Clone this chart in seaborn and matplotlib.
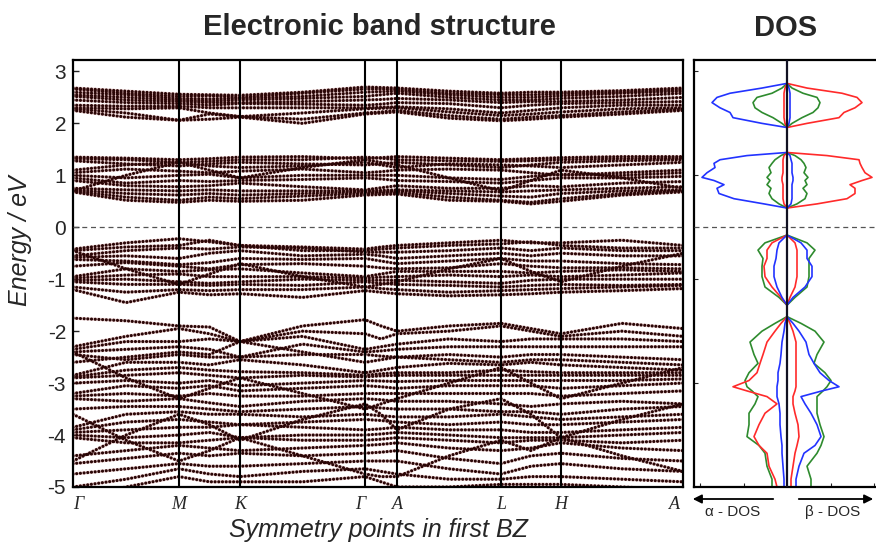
import numpy as np
import pandas as pd
import matplotlib
matplotlib.use("Agg")
import matplotlib.pyplot as plt
import seaborn as sns

# ---------------- k-path ----------------
sym_labels = ["Γ", "M", "K", "Γ", "A", "L", "H", "A"]
sym_pos = [0, 106, 167, 292, 324, 428, 488, 610]
# sample positions along the path: each symmetry point plus the midpoint of each segment
k_nodes = [0, 53, 106, 136.5, 167, 229.5, 292, 308, 324, 376, 428, 458, 488, 549, 610]

# ---------------- bands (eV) ----------------
cond_upper = [
    [2.68, 2.62, 2.56, 2.55, 2.54, 2.60, 2.70, 2.69, 2.68, 2.62, 2.58, 2.60, 2.60, 2.63, 2.68],
    [2.66, 2.58, 2.52, 2.53, 2.50, 2.58, 2.66, 2.66, 2.65, 2.58, 2.55, 2.55, 2.57, 2.60, 2.65],
    [2.60, 2.55, 2.48, 2.47, 2.48, 2.52, 2.60, 2.61, 2.62, 2.55, 2.50, 2.50, 2.53, 2.58, 2.62],
    [2.55, 2.50, 2.45, 2.43, 2.45, 2.48, 2.52, 2.55, 2.58, 2.50, 2.45, 2.45, 2.48, 2.52, 2.58],
    [2.52, 2.45, 2.42, 2.40, 2.40, 2.42, 2.45, 2.46, 2.48, 2.45, 2.40, 2.42, 2.42, 2.45, 2.50],
    [2.45, 2.40, 2.38, 2.35, 2.38, 2.37, 2.35, 2.37, 2.40, 2.38, 2.30, 2.35, 2.38, 2.40, 2.42],
    [2.35, 2.33, 2.33, 2.30, 2.30, 2.30, 2.30, 2.31, 2.32, 2.28, 2.20, 2.25, 2.30, 2.35, 2.35],
    [2.30, 2.28, 2.30, 2.20, 2.13, 2.20, 2.28, 2.29, 2.30, 2.22, 2.15, 2.18, 2.22, 2.28, 2.30],
    [2.28, 2.20, 2.06, 2.18, 2.13, 2.08, 2.20, 2.22, 2.25, 2.15, 2.08, 2.12, 2.15, 2.22, 2.27],
    [2.25, 2.12, 2.06, 2.08, 2.12, 2.00, 2.18, 2.20, 2.22, 2.10, 2.05, 2.08, 2.12, 2.18, 2.25],
]
cond_lower = [
    [1.35, 1.33, 1.30, 1.32, 1.35, 1.36, 1.32, 1.34, 1.36, 1.33, 1.30, 1.32, 1.34, 1.36, 1.36],
    [1.32, 1.30, 1.25, 1.27, 1.30, 1.30, 1.35, 1.33, 1.30, 1.28, 1.27, 1.28, 1.30, 1.32, 1.33],
    [1.28, 1.22, 1.18, 1.22, 1.25, 1.22, 1.20, 1.22, 1.25, 1.20, 1.15, 1.20, 1.25, 1.28, 1.30],
    [1.10, 1.20, 1.25, 1.18, 1.15, 1.18, 1.25, 1.20, 1.15, 1.22, 1.20, 1.18, 1.15, 1.20, 1.25],
    [1.05, 1.12, 1.08, 1.05, 1.08, 1.12, 1.05, 1.07, 1.10, 1.12, 1.10, 1.05, 1.00, 1.05, 1.10],
    [0.70, 1.00, 1.25, 1.10, 0.95, 1.15, 1.30, 1.25, 1.20, 0.95, 0.70, 0.90, 1.10, 0.95, 0.75],
    [1.00, 0.95, 1.00, 1.02, 0.95, 1.00, 1.00, 1.00, 1.00, 0.95, 0.92, 0.98, 1.02, 1.00, 1.05],
    [0.95, 0.85, 0.90, 0.88, 0.90, 0.92, 0.95, 0.93, 0.90, 0.88, 0.85, 0.90, 0.95, 0.95, 0.98],
    [0.90, 0.80, 0.78, 0.80, 0.85, 0.78, 0.72, 0.76, 0.80, 0.75, 0.75, 0.80, 0.78, 0.85, 0.88],
    [0.75, 0.72, 0.70, 0.72, 0.70, 0.70, 0.70, 0.71, 0.72, 0.70, 0.68, 0.70, 0.72, 0.75, 0.78],
    [0.72, 0.65, 0.62, 0.65, 0.62, 0.65, 0.68, 0.68, 0.70, 0.65, 0.60, 0.58, 0.65, 0.70, 0.72],
    [0.70, 0.58, 0.52, 0.58, 0.55, 0.60, 0.65, 0.66, 0.67, 0.58, 0.52, 0.48, 0.55, 0.65, 0.70],
    [0.68, 0.52, 0.48, 0.52, 0.50, 0.52, 0.62, 0.63, 0.64, 0.52, 0.50, 0.45, 0.50, 0.62, 0.68],
]
val_upper = [
    [-0.42, -0.30, -0.22, -0.28, -0.35, -0.38, -0.42, -0.38, -0.35, -0.30, -0.25, -0.30, -0.30, -0.25, -0.35],
    [-0.45, -0.38, -0.35, -0.25, -0.35, -0.45, -0.45, -0.42, -0.40, -0.35, -0.32, -0.28, -0.35, -0.40, -0.40],
    [-0.55, -0.45, -0.40, -0.42, -0.38, -0.40, -0.48, -0.48, -0.48, -0.45, -0.40, -0.45, -0.40, -0.45, -0.45],
    [-0.45, -0.80, -1.10, -0.90, -0.70, -0.95, -1.15, -1.10, -1.05, -0.80, -0.60, -0.85, -1.05, -0.75, -0.50],
    [-0.58, -0.55, -0.60, -0.50, -0.45, -0.55, -0.52, -0.55, -0.60, -0.55, -0.50, -0.55, -0.50, -0.55, -0.55],
    [-0.62, -0.65, -0.72, -0.68, -0.60, -0.62, -0.60, -0.65, -0.70, -0.65, -0.60, -0.65, -0.65, -0.70, -0.72],
    [-0.75, -0.68, -0.75, -0.80, -0.72, -0.70, -0.75, -0.78, -0.80, -0.78, -0.70, -0.75, -0.78, -0.78, -0.80],
    [-0.95, -0.80, -0.85, -0.82, -0.80, -0.88, -0.95, -0.90, -0.85, -0.85, -0.85, -0.88, -0.85, -0.82, -0.85],
    [-0.98, -0.92, -0.90, -0.95, -0.95, -0.95, -0.98, -0.96, -0.95, -0.92, -0.95, -0.92, -0.95, -0.92, -0.88],
    [-1.02, -1.00, -1.05, -1.08, -1.05, -1.00, -1.02, -1.02, -1.02, -1.05, -1.08, -1.02, -1.00, -1.00, -1.00],
    [-1.05, -1.10, -1.10, -1.12, -1.10, -1.12, -1.05, -1.08, -1.10, -1.12, -1.15, -1.12, -1.10, -1.12, -1.10],
    [-1.15, -1.25, -1.20, -1.22, -1.20, -1.20, -1.15, -1.18, -1.20, -1.25, -1.22, -1.20, -1.18, -1.15, -1.12],
    [-1.20, -1.45, -1.25, -1.30, -1.28, -1.35, -1.22, -1.25, -1.28, -1.32, -1.30, -1.28, -1.25, -1.22, -1.18],
]
val_lower = [
    [-1.75, -1.80, -1.90, -1.92, -2.20, -1.90, -1.78, -1.90, -2.00, -1.90, -1.85, -1.95, -2.05, -1.85, -1.95],
    [-2.30, -2.10, -1.95, -2.05, -2.20, -2.00, -2.05, -2.15, -2.05, -2.00, -1.90, -2.00, -2.10, -2.00, -2.10],
    [-2.35, -2.20, -2.20, -2.15, -2.20, -2.10, -2.35, -2.30, -2.25, -2.15, -2.20, -2.15, -2.15, -2.15, -2.20],
    [-2.40, -2.35, -2.30, -2.35, -2.50, -2.25, -2.40, -2.38, -2.35, -2.30, -2.30, -2.30, -2.30, -2.30, -2.30],
    [-2.45, -2.55, -2.45, -2.50, -2.50, -2.45, -2.45, -2.48, -2.50, -2.45, -2.50, -2.45, -2.45, -2.50, -2.55],
    [-2.60, -2.50, -2.40, -2.45, -2.20, -2.40, -2.60, -2.55, -2.50, -2.55, -2.60, -2.55, -2.55, -2.60, -2.65],
    [-2.40, -2.90, -3.30, -3.10, -2.90, -3.20, -3.50, -3.40, -3.30, -3.00, -2.70, -3.00, -3.30, -3.00, -2.70],
    [-2.85, -2.60, -2.60, -2.65, -2.55, -2.65, -2.80, -2.75, -2.70, -2.62, -2.65, -2.60, -2.65, -2.70, -2.75],
    [-2.88, -2.75, -2.70, -2.75, -2.78, -2.80, -2.85, -2.82, -2.80, -2.80, -2.75, -2.78, -2.80, -2.80, -2.80],
    [-2.90, -2.85, -2.80, -2.85, -2.90, -2.85, -2.88, -2.86, -2.85, -2.85, -2.85, -2.85, -2.85, -2.85, -2.85],
    [-3.00, -2.95, -3.00, -2.95, -3.05, -3.00, -2.95, -2.96, -2.97, -2.95, -2.95, -2.95, -2.95, -2.95, -2.92],
    [-3.20, -3.05, -3.10, -3.05, -3.15, -3.10, -3.05, -3.07, -3.10, -3.05, -3.05, -3.05, -3.10, -3.05, -3.00],
    [-3.25, -3.20, -3.25, -3.20, -3.25, -3.25, -3.20, -3.20, -3.20, -3.20, -3.20, -3.20, -3.25, -3.20, -3.15],
    [-3.30, -3.35, -3.30, -3.38, -3.45, -3.35, -3.30, -3.32, -3.35, -3.35, -3.40, -3.45, -3.40, -3.35, -3.40],
    [-3.50, -3.45, -3.45, -3.50, -3.55, -3.50, -3.45, -3.48, -3.50, -3.50, -3.55, -3.55, -3.60, -3.50, -3.45],
    [-4.50, -4.00, -3.60, -3.80, -4.10, -3.70, -3.40, -3.60, -3.90, -3.50, -3.30, -3.60, -4.05, -3.70, -3.40],
    [-3.85, -3.60, -3.55, -3.60, -3.60, -3.65, -3.60, -3.63, -3.65, -3.65, -3.60, -3.65, -3.70, -3.65, -3.60],
    [-3.90, -3.75, -3.70, -3.75, -3.80, -3.75, -3.70, -3.72, -3.75, -3.80, -3.75, -3.80, -3.80, -3.75, -3.70],
    [-3.95, -3.90, -3.85, -3.85, -3.80, -3.85, -3.90, -3.88, -3.85, -3.90, -3.90, -3.95, -3.95, -3.90, -3.85],
    [-3.60, -4.10, -4.50, -4.30, -4.05, -4.40, -4.75, -4.80, -4.80, -4.40, -4.10, -4.30, -4.05, -4.40, -4.70],
    [-4.00, -4.05, -4.00, -3.95, -4.05, -4.00, -4.00, -3.98, -3.95, -4.00, -4.05, -4.05, -4.05, -4.00, -3.95],
    [-4.05, -4.15, -4.15, -4.10, -4.05, -4.10, -4.10, -4.08, -4.05, -4.10, -4.15, -4.10, -4.10, -4.15, -4.10],
    [-4.40, -4.30, -4.20, -4.25, -4.30, -4.25, -4.20, -4.18, -4.15, -4.25, -4.30, -4.25, -4.15, -4.25, -4.30],
    [-4.55, -4.45, -4.35, -4.40, -4.35, -4.40, -4.35, -4.33, -4.30, -4.45, -4.55, -4.40, -4.35, -4.45, -4.50],
    [-4.75, -4.65, -4.55, -4.60, -4.60, -4.55, -4.50, -4.50, -4.50, -4.65, -4.75, -4.60, -4.55, -4.65, -4.70],
    [-5.00, -4.85, -4.65, -4.75, -4.80, -4.70, -4.65, -4.70, -4.75, -4.85, -4.85, -4.80, -4.80, -4.85, -4.90],
    [-5.20, -5.00, -4.80, -4.90, -4.90, -4.90, -4.80, -4.90, -5.00, -5.00, -4.95, -4.95, -4.95, -5.00, -5.05],
]

# ---------------- DOS (arb. units) ----------------
dos_energy = [-5.00, -4.85, -4.60, -4.35, -4.20, -4.03, -3.80, -3.58, -3.40, -3.26,
              -3.15, -3.07, -2.95, -2.80, -2.62, -2.45, -2.21, -2.00, -1.85, -1.72,
              -1.50, -1.35, -1.15, -0.95, -0.75, -0.60, -0.44, -0.30, -0.15,
              0.37, 0.45, 0.55, 0.65, 0.75, 0.82, 0.90, 0.96, 1.05, 1.15, 1.23, 1.30, 1.38, 1.44,
              1.92, 2.00, 2.11, 2.21, 2.30, 2.40, 2.50, 2.58, 2.68, 2.77]
green_alpha = [15, 15, 20, 22, 28, 40, 38, 38, 32, 29, 35, 40, 42, 38, 29, 33, 37, 25, 12, 0,
               0, 8, 22, 25, 25, 24, 29, 22, 0,
               0, 8, 15, 18, 16, 20, 17, 20, 16, 18, 15, 12, 6, 0,
               0, 5, 14, 25, 32, 34, 30, 15, 5, 0]
green_beta = [24, 24, 20, 30, 34, 37, 33, 30, 30, 30, 36, 40, 44, 38, 27, 30, 37, 28, 14, 0,
              0, 8, 20, 22, 22, 22, 28, 20, 0,
              0, 10, 18, 20, 16, 20, 18, 21, 17, 19, 17, 14, 8, 0,
              0, 5, 15, 26, 31, 33, 30, 16, 5, 0]
red_alpha = [10, 12, 18, 20, 28, 33, 28, 22, 10, 20, 40, 54, 38, 30, 27, 24, 20, 12, 6, 0,
             0, 6, 15, 22, 23, 20, 20, 15, 0,
             0, 3, 4, 4, 4, 4, 5, 5, 4, 4, 4, 4, 3, 0,
             0, 2, 3, 3, 3, 3, 3, 3, 2, 0]
red_beta = [4, 4, 6, 8, 10, 12, 11, 8, 6, 6, 8, 9, 9, 9, 9, 9, 9, 6, 3, 0,
            0, 3, 8, 10, 10, 10, 10, 8, 0,
            0, 30, 60, 68, 68, 63, 75, 85, 78, 75, 73, 72, 40, 0,
            0, 20, 52, 57, 68, 75, 70, 55, 20, 0]
blue_alpha = [3, 3, 4, 5, 5, 6, 7, 7, 8, 10, 10, 10, 9, 9, 7, 6, 5, 3, 2, 0,
              0, 5, 10, 13, 13, 11, 10, 8, 0,
              0, 23, 53, 68, 70, 63, 73, 85, 80, 72, 73, 67, 40, 0,
              0, 25, 54, 57, 67, 75, 70, 57, 25, 0]
blue_beta = [9, 9, 12, 17, 28, 34, 30, 24, 18, 14, 35, 52, 42, 33, 27, 22, 19, 12, 6, 0,
             0, 6, 18, 25, 25, 20, 20, 14, 0,
             0, 4, 5, 5, 5, 5, 6, 6, 5, 5, 5, 4, 3, 0,
             0, 2, 3, 3, 3, 3, 3, 3, 2, 0]

# ---------------- tidy tables ----------------
band_rows = []
bid = 0
for group in (cond_upper, cond_lower, val_upper, val_lower):
    for band in group:
        for k, e in zip(k_nodes, band):
            band_rows.append((bid, k, e))
        bid += 1
bands_df = pd.DataFrame(band_rows, columns=["band", "k", "E"])

dos_curves = {
    "green α": (green_alpha, -1), "green β": (green_beta, 1),
    "red α": (red_alpha, -1), "red β": (red_beta, 1),
    "blue α": (blue_alpha, -1), "blue β": (blue_beta, 1),
}
dos_rows = []
for name, (vals, sign) in dos_curves.items():
    for e, v in zip(dos_energy, vals):
        dos_rows.append((name, e, sign * v))
dos_df = pd.DataFrame(dos_rows, columns=["curve", "E", "dos"])
dos_palette = {"green α": "#2e8b2e", "green β": "#2e8b2e",
               "red α": "#ff2a2a", "red β": "#ff2a2a",
               "blue α": "#2233ff", "blue β": "#2233ff"}

# ---------------- figure ----------------
sns.set_style("white")
plt.rcParams["font.family"] = ["Liberation Sans", "DejaVu Sans"]

W, H = 876, 545
fig = plt.figure(figsize=(W / 100, H / 100), dpi=100)
ax = fig.add_axes([73 / W, 1 - 487 / H, 610 / W, 427 / H])
ax_d = fig.add_axes([694 / W, 1 - 487 / H, 1 - 694 / W, 427 / H])

# band structure: rows of round dark dots with a faint red halo
sns.lineplot(data=bands_df, x="k", y="E", units="band", estimator=None, sort=False,
             color="#d08080", lw=2.4, alpha=0.3, ax=ax, legend=False)
sns.lineplot(data=bands_df, x="k", y="E", units="band", estimator=None, sort=False,
             color="#2a0606", lw=2.3, linestyle=(0, (0.01, 1.15)),
             dash_capstyle="round", ax=ax, legend=False)

for xp in sym_pos[1:-1]:
    ax.axvline(xp, color="black", lw=1.5, zorder=5)
ax.axhline(0, color="#555555", lw=0.9, ls=(0, (4, 3)), zorder=4)

ax.set_xlim(sym_pos[0], sym_pos[-1])
ax.set_ylim(-5, 3.22)
ax.set_yticks([3, 2, 1, 0, -1, -2, -3, -4, -5])
ax.set_yticklabels(["3", "2", "1", "0", "-1", "-2", "-3", "-4", "-5"])
ax.tick_params(axis="y", direction="in", length=4, width=1, labelsize=15, pad=5, left=True)
ax.set_xticks([])
ax.set_xlabel("")
ax.set_ylabel("Energy / eV", fontsize=18, style="italic")
ax.yaxis.set_label_coords(-0.067, 0.576)
for s in ax.spines.values():
    s.set_color("black")
    s.set_linewidth(1.6)

# high-symmetry point labels
for i, (lab, xp) in enumerate(zip(sym_labels, sym_pos)):
    ha = "center"
    dx = 0
    if i == 0:
        ha = "left"
    elif i == len(sym_labels) - 1:
        ha = "right"
        dx = -3
    elif lab == "Γ":
        dx = -5
    ax.annotate(lab, xy=(xp, 0), xycoords=("data", "axes fraction"),
                xytext=(dx, -9), textcoords="offset pixels", ha=ha, va="top",
                fontsize=13, style="italic", family=["Liberation Serif", "DejaVu Serif"])

fig.text(378 / W, 1 - 530 / H, "Symmetry points in first BZ", fontsize=18,
         style="italic", ha="center", va="center")
fig.text(379 / W, 1 - 27 / H, "Electronic band structure", fontsize=21,
         weight="bold", ha="center", va="center")
fig.text(786 / W, 1 - 28 / H, "DOS", fontsize=21, weight="bold",
         ha="center", va="center")

# DOS panel
sns.lineplot(data=dos_df, x="dos", y="E", hue="curve", units="curve", estimator=None,
             sort=False, palette=dos_palette, lw=1.2, ax=ax_d, legend=False)
ax_d.axvline(0, color="#111122", lw=1.6, zorder=5)
ax_d.axhline(0, color="#555555", lw=0.9, ls=(0, (4, 3)), zorder=4)
ax_d.set_xlim(-93, 89)
ax_d.set_ylim(-5, 3.22)
ax_d.set_xticks([-87, -43.5, 43.5, 87])
ax_d.set_yticks([3, 1, -1, -3])
ax_d.tick_params(direction="in", length=3, width=0.8, labelleft=False, labelbottom=False,
                 left=True, bottom=True)
ax_d.set_xlabel("")
ax_d.set_ylabel("")
for name, s in ax_d.spines.items():
    s.set_color("black")
    s.set_linewidth(1.6)
ax_d.spines["right"].set_visible(False)

# spin arrows under the DOS panel
arrow_kw = dict(arrowstyle="-|>", color="black", lw=1.3, mutation_scale=13)
fig.add_artist(matplotlib.patches.FancyArrowPatch((776, H - 499), (690, H - 499),
                                                  transform=None, **arrow_kw))
fig.add_artist(matplotlib.patches.FancyArrowPatch((796, H - 499), (876, H - 499),
                                                  transform=None, **arrow_kw))
fig.text(733 / W, 1 - 512 / H, "α - DOS", fontsize=11, ha="center", va="center")
fig.text(833 / W, 1 - 512 / H, "β - DOS", fontsize=11, ha="center", va="center")

fig.savefig("out.png", dpi=100, facecolor="white")
